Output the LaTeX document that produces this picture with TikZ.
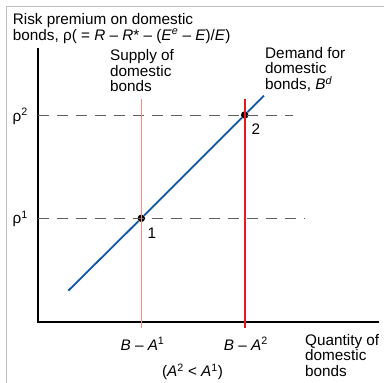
\documentclass[tikz,border=0pt]{standalone}
\usepackage{fontspec}
\setmainfont{Liberation Sans}
\usepackage{tikz}
\usetikzlibrary{positioning}
\usepackage{xcolor}
\definecolor{bondblue}{RGB}{15,85,170}
\definecolor{supplyred}{RGB}{235,20,35}
\definecolor{supplypink}{RGB}{246,140,125}
\definecolor{dashgrey}{RGB}{95,95,95}
\definecolor{framegrey}{RGB}{190,190,190}

\begin{document}
\begin{tikzpicture}[x=1pt, y=-1pt,
    font=\fontsize{15.3}{15.5}\selectfont,
    lbl/.style={inner sep=0pt, align=left, anchor=base west},
    ticklbl/.style={inner sep=0pt, anchor=base},
    guide/.style={dashgrey, line width=1pt, dash pattern=on 11pt off 8pt},
    dot/.style={circle, fill=black, inner sep=0pt, minimum size=7.5pt}]
    \useasboundingbox (0,0) rectangle (384,383);
    % frame
    \draw[framegrey, line width=1.5pt] (6.5,383) -- (6.5,6.5) -- (384,6.5);

    % axes
    \coordinate (o) at (37.7,322);
    \coordinate (ytop) at (37.7,48);
    \coordinate (xend) at (379,322);
    \draw[line width=1.6pt] (ytop) -- (o) -- (xend);

    % equilibrium points
    \node[dot] (p1) at (141.3,218.3) {};
    \node[dot] (p2) at (244.7,115) {};
    \node[lbl] (n1) at (147.5,238.3) {1};
    \node[lbl] (n2) at (251.5,134) {2};

    % risk premium guides
    \coordinate (r1) at (37.7,218.3);
    \coordinate (r1end) at (304,218.3);
    \coordinate (r2) at (37.7,115);
    \coordinate (r2end) at (293,115);
    \draw[guide] (r2) -- (r2end);
    \draw[guide] (r1) -- (r1end);
    \node[lbl] (rho2) at (12.5,121) {ρ\textsuperscript{2}};
    \node[lbl] (rho1) at (12.5,223.5) {ρ\textsuperscript{1}};

    % supply of domestic bonds
    \coordinate (s1top) at (141.3,99.3);
    \coordinate (s1bot) at (141.3,328);
    \coordinate (s2top) at (244.7,99.3);
    \coordinate (s2bot) at (244.7,328);
    \draw[supplypink, line width=1.6pt] (s1top) -- (s1bot);
    \draw[supplyred, line width=1.6pt] (s2top) -- (s2bot);

    % demand for domestic bonds
    \coordinate (d0) at (68.3,290.7);
    \coordinate (d1) at (264,95.7);
    \draw[bondblue, line width=1.8pt] (d0) -- (p1) -- (p2) -- (d1);

    % labels (base = last line)
    \node[lbl, font=\fontsize{15.3}{16}\selectfont] (ylab) at (12.7,40)
        {Risk premium on domestic\\bonds, ρ( = \textit{R} – \textit{R}* – (\textit{E}\textsuperscript{\textit{e}} – \textit{E})/\textit{E})};
    \node[lbl] (slab) at (110,91.7) {Supply of\\domestic\\bonds};
    \node[lbl] (dlab) at (265,89.3) {Demand for\\domestic\\bonds, \textit{B}\textsuperscript{\textit{d}}};
    \node[lbl] (xlab) at (305,376) {Quantity of\\domestic\\bonds};
    \node[ticklbl] (t1) at (142.5,350) {\textit{B} – \textit{A}\textsuperscript{1}};
    \node[ticklbl] (t2) at (245.8,350) {\textit{B} – \textit{A}\textsuperscript{2}};
    \node[ticklbl] (cond) at (192.5,376.5) {(\textit{A}\textsuperscript{2} < \textit{A}\textsuperscript{1})};
\end{tikzpicture}
\end{document}
